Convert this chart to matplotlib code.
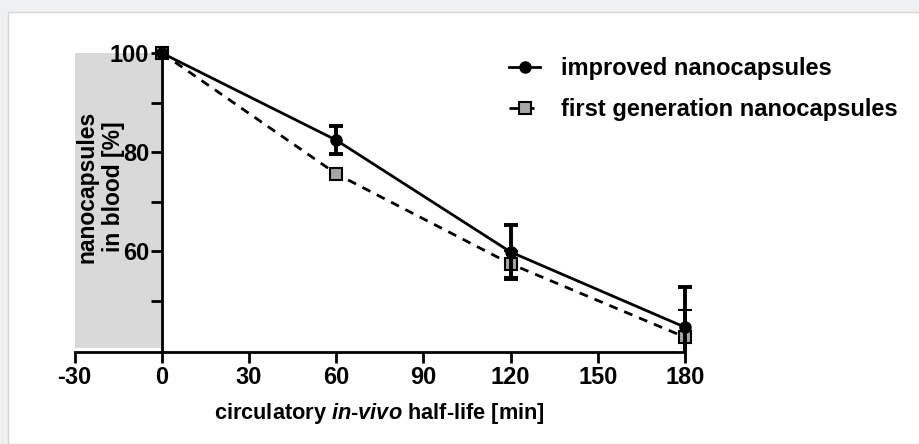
import matplotlib
matplotlib.use("Agg")
import matplotlib.pyplot as plt
from matplotlib.patches import Rectangle
from matplotlib.lines import Line2D

plt.rcParams["font.family"] = ["Liberation Sans", "DejaVu Sans"]
plt.rcParams["font.weight"] = "bold"
plt.rcParams["axes.unicode_minus"] = False
plt.rcParams["mathtext.fontset"] = "custom"
plt.rcParams["mathtext.it"] = "Liberation Sans:italic:bold"
plt.rcParams["mathtext.rm"] = "Liberation Sans:bold"

# data
time_min = [0, 60, 120, 180]
improved = [100, 82.4, 59.8, 44.6]
improved_err = [0, 2.8, 5.4, 8.2]
first_gen = [100, 75.6, 57.4, 42.6]
first_gen_err = [0, 0, 2.7, 5.4]
x_ticks = [-30, 0, 30, 60, 90, 120, 150, 180]
y_major = [60, 80, 100]
y_minor = [50, 70, 90]

fig = plt.figure(figsize=(9.2, 4.44), dpi=100, facecolor="#eef0f2")
fig.patches.append(Rectangle((8 / 920, 0), 1, 1 - 12 / 444, transform=fig.transFigure,
                             facecolor="white", edgecolor="#d4d6d8", linewidth=1, zorder=-5))

ax = fig.add_axes([74.6 / 920, 92 / 444, 610.4 / 920, 299 / 444])
ax.set_facecolor("none")
ax.set_xlim(-30, 180)
ax.set_ylim(39.6, 100)

# grey band left of time zero
ax.fill_between([-30, 0], 40.4, 100, color="#d9d9d9", linewidth=0, zorder=0)

dash = (0, (3.2, 2.6))
eb1 = ax.errorbar(time_min, first_gen, yerr=first_gen_err, color="black", linestyle=dash,
                  linewidth=2, marker="s", markersize=9, markerfacecolor="#a6a6a6",
                  markeredgecolor="black", markeredgewidth=1.5, elinewidth=2.8, capsize=5,
                  capthick=2.8, clip_on=False, zorder=3)
eb2 = ax.errorbar(time_min, improved, yerr=improved_err, color="black", linestyle="-",
                  linewidth=2, marker="o", markersize=8, markerfacecolor="black",
                  elinewidth=2.8, capsize=5, capthick=2.8, clip_on=False, zorder=4)

# error bars stop at the x axis
clip = Rectangle((-40, 39.6), 260, 80, transform=ax.transData, visible=False)
ax.add_patch(clip)
for eb in (eb1, eb2):
    for c in list(eb[1]) + list(eb[2]):
        c.set_clip_on(True)
        c.set_clip_path(clip)

for s in ["top", "right"]:
    ax.spines[s].set_visible(False)
ax.spines["left"].set_position(("data", 0))
ax.spines["left"].set_linewidth(2)
ax.spines["bottom"].set_linewidth(2)

ax.set_xticks(x_ticks)
ax.set_yticks(y_major)
ax.set_yticks(y_minor, minor=True)
ax.tick_params(axis="both", which="major", length=8, width=2, labelsize=17, pad=2)
ax.tick_params(axis="y", which="major", pad=1)
ax.tick_params(axis="y", which="minor", length=8, width=2)
for lab in ax.get_xticklabels() + ax.get_yticklabels():
    lab.set_fontweight("bold")

ax.set_xlabel("circulatory $\\it{in}$-$\\it{vivo}$ half-life [min]", fontsize=15.7,
              fontweight="bold", labelpad=9)
ax.text(-21.3, 73, "nanocapsules\nin blood [%]", rotation=90, ha="center", va="center",
        fontsize=16.5, fontweight="bold", linespacing=1.2)

h_imp = Line2D([], [], color="black", linewidth=2, marker="o", markersize=8)
h_first = Line2D([], [], color="black", linewidth=2, linestyle=dash, marker="s", markersize=9,
                 markerfacecolor="#a6a6a6", markeredgewidth=1.5)
leg = ax.legend([h_imp, h_first], ["improved nanocapsules", "first generation nanocapsules"],
                loc="upper left", bbox_to_anchor=(488 / 920, 1 - 36 / 444),
                bbox_transform=fig.transFigure, frameon=False, fontsize=17,
                handlelength=1.3, handletextpad=0.9, labelspacing=0.75)
for t in leg.get_texts():
    t.set_fontweight("bold")

fig.savefig("out.png", dpi=100, facecolor=fig.get_facecolor())
